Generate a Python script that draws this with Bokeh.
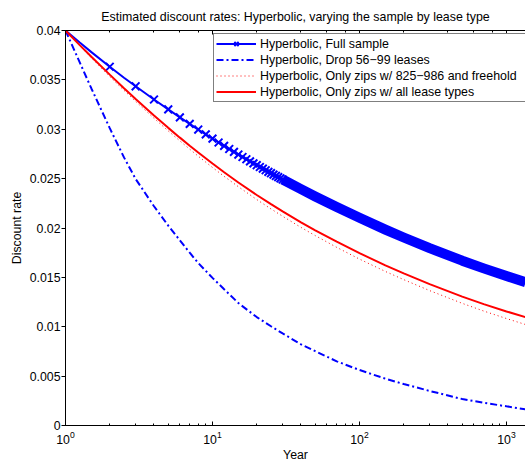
from bokeh.plotting import figure
from bokeh.models import Range1d, LogAxis, LogTicker, FixedTicker, Legend, LegendItem
from bokeh.embed import file_html
from bokeh.resources import INLINE

# ---------------- data ----------------
title_text = "Estimated discount rates: Hyperbolic, varying the sample by lease type"
x_label = "Year"
y_label = "Discount rate"
y_ticks = [0, 0.005, 0.01, 0.015, 0.02, 0.025, 0.03, 0.035, 0.04]
y_tick_labels = ["0", "0.005", "0.01", "0.015", "0.02", "0.025", "0.03", "0.035", "0.04"]

series_names = [
    "Hyperbolic, Full sample",
    "Hyperbolic, Drop 56\u221299 leases",
    "Hyperbolic, Only zips w/ 825\u2212986 and freehold",
    "Hyperbolic, Only zips w/ all lease types",
]

# Full sample: one marker per whole year up to 30 (beyond they merge into a solid band)
years_full = [1, 1.25, 1.5, 2, 2.5, 3, 4, 5, 6, 7, 8, 9, 10, 11, 12, 13, 14, 15, 16, 17, 18, 19, 20,
              21, 22, 23, 24, 25, 26, 27, 28, 29, 30, 40, 50, 70, 100, 150, 200, 300, 500, 700,
              1000, 1350]
rate_full = [0.04, 0.03878, 0.03781, 0.03633, 0.03522, 0.03435, 0.03301, 0.03201, 0.0312, 0.03054,
             0.02997, 0.02948, 0.02905, 0.02866, 0.02832, 0.028, 0.02771, 0.02744, 0.02719, 0.02696,
             0.02675, 0.02655, 0.02636, 0.02618, 0.02601, 0.02585, 0.02569, 0.02555, 0.02541,
             0.02527, 0.02515, 0.02502, 0.02491, 0.02393, 0.02319, 0.02212, 0.02103, 0.01984,
             0.01904, 0.01796, 0.01669, 0.01591, 0.01513, 0.0145]
marker_until_year = 30

years_drop = [1, 1.25, 1.5, 2, 2.5, 3, 4, 5, 6, 7, 8, 10, 12, 15, 20, 25, 30, 40, 50, 70, 100,
              150, 200, 300, 500, 700, 1000, 1350]
rate_drop = [0.04, 0.03677, 0.03413, 0.03011, 0.02715, 0.02497, 0.0222, 0.02024, 0.01875, 0.0175,
             0.01645, 0.01495, 0.0138, 0.0124, 0.01098, 0.01005, 0.00932, 0.00822, 0.00753,
             0.0065, 0.00562, 0.00474, 0.0042, 0.0035, 0.00268, 0.0023, 0.00194, 0.00164]

years_zips = [1, 1.25, 1.5, 2, 2.5, 3, 4, 5, 6, 7, 8, 10, 12, 15, 20, 25, 30, 40, 50, 70, 100,
              150, 200, 300, 500, 700, 1000, 1350]
rate_zips_825 = [0.04, 0.03846, 0.03723, 0.03533, 0.03394, 0.03282, 0.03111, 0.02983, 0.02882,
                 0.02798, 0.02727, 0.02613, 0.02523, 0.02418, 0.02288, 0.02193, 0.02119, 0.02006,
                 0.01923, 0.01804, 0.01685, 0.0156, 0.01477, 0.01366, 0.01237, 0.01159, 0.01083,
                 0.01022]
rate_zips_all = [0.04, 0.03852, 0.03735, 0.03553, 0.03416, 0.03306, 0.03139, 0.03014, 0.02915,
                 0.02833, 0.02764, 0.02653, 0.02565, 0.02461, 0.02334, 0.02241, 0.02168, 0.02058,
                 0.01977, 0.01861, 0.01745, 0.01622, 0.0154, 0.01431, 0.01305, 0.01229, 0.01155,
                 0.01097]

# ---------------- figure ----------------
FONT = "Liberation Sans"
BLUE = "#0000ff"
RED = "#ff0000"
TICK_FS = "12.3px"

p = figure(width=525, height=464, x_axis_type="log",
           x_range=Range1d(1, 1347), y_range=Range1d(0, 0.04),
           output_backend="svg", toolbar_location=None,
           min_border_left=65, min_border_right=0, min_border_top=30, min_border_bottom=37,
           outline_line_color=None, background_fill_color="white", border_fill_color="white")
p.grid.visible = False

p.title.text = title_text
p.title.align = "center"
p.title.text_font = FONT
p.title.text_font_size = "12.4px"
p.title.text_font_style = "normal"
p.title.text_color = "black"
p.title.standoff = 14

# bottom axis
xa = p.xaxis[0]
xa.axis_label = x_label
xa.axis_label_text_font = FONT
xa.axis_label_text_font_size = TICK_FS
xa.axis_label_text_font_style = "normal"
xa.axis_label_text_color = "black"
xa.axis_label_standoff = 1
xa.major_label_text_font = FONT
xa.major_label_text_font_size = TICK_FS
xa.major_label_text_color = "black"
xa.major_label_standoff = 5
xa.major_tick_in = 4
xa.major_tick_out = 0
xa.minor_tick_in = 2
xa.minor_tick_out = 0
xa.axis_line_color = "black"
xa.major_tick_line_color = "black"
xa.minor_tick_line_color = "black"

# top border with ticks (labels hidden)
top = LogAxis(ticker=LogTicker(), major_label_text_font_size="1px", major_label_text_alpha=0,
              major_label_standoff=0,
              major_tick_in=4, major_tick_out=0, minor_tick_in=2, minor_tick_out=0,
              axis_line_color="black", major_tick_line_color="black", minor_tick_line_color="black")
p.add_layout(top, "above")

# left axis
ya = p.yaxis[0]
ya.ticker = FixedTicker(ticks=y_ticks)
ya.major_label_overrides = {float(k): v for k, v in zip(y_ticks, y_tick_labels)}
ya.axis_label = y_label
ya.axis_label_text_font = FONT
ya.axis_label_text_font_size = TICK_FS
ya.axis_label_text_font_style = "normal"
ya.axis_label_text_color = "black"
ya.axis_label_standoff = 3
ya.major_label_text_font = FONT
ya.major_label_text_font_size = TICK_FS
ya.major_label_text_color = "black"
ya.major_label_standoff = 1
ya.major_tick_in = 0
ya.major_tick_out = 4
ya.minor_tick_line_color = None
ya.axis_line_color = "black"
ya.major_tick_line_color = "black"

# ---------------- series ----------------
idx = years_full.index(marker_until_year)
mk_years = [y for y in years_full[:idx + 1] if float(y).is_integer()]
mk_rates = [r for y, r in zip(years_full[:idx + 1], rate_full[:idx + 1]) if float(y).is_integer()]

r_full_line = p.line(years_full, rate_full, line_color=BLUE, line_width=2)
p.line(years_full[idx:], rate_full[idx:], line_color=BLUE, line_width=10, line_join="round")
r_full_mk = p.scatter(mk_years, mk_rates, marker="x", size=11, line_color=BLUE, line_width=2)

r_drop = p.line(years_drop, rate_drop, line_color=BLUE, line_width=2, line_dash="7 3 2 3")
r_825 = p.line(years_zips, rate_zips_825, line_color=RED, line_width=1, line_dash="1 3")
r_all = p.line(years_zips, rate_zips_all, line_color=RED, line_width=2)

legend = Legend(items=[
    LegendItem(label=series_names[0], renderers=[r_full_line, r_full_mk]),
    LegendItem(label=series_names[1], renderers=[r_drop]),
    LegendItem(label=series_names[2], renderers=[r_825]),
    LegendItem(label=series_names[3], renderers=[r_all]),
], location=(148, 323), border_line_color="black", border_line_width=1,
    background_fill_color="white", background_fill_alpha=1.0,
    label_text_font=FONT, label_text_font_size="12.4px", label_text_color="black",
    glyph_width=40, glyph_height=15, label_height=15, label_width=266, label_standoff=4,
    spacing=1, padding=2, margin=0)
p.add_layout(legend)

open("out.html", "w").write(file_html(p, INLINE))
